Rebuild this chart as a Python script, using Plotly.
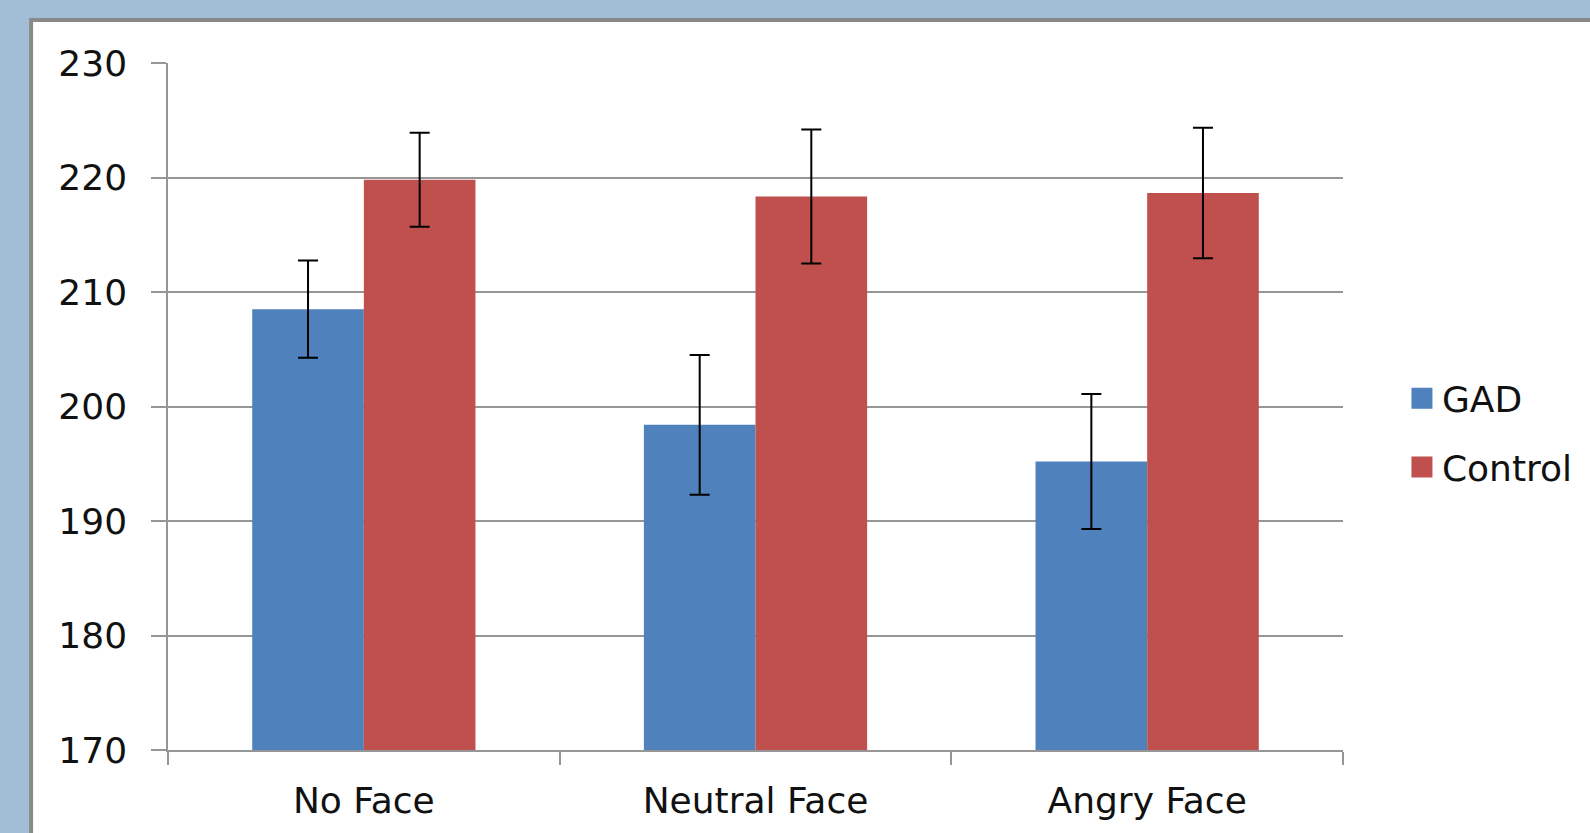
import plotly.graph_objects as go

categories = ["No Face", "Neutral Face", "Angry Face"]
gad_values = [208.5, 198.4, 195.2]
gad_errors = [4.25, 6.1, 5.9]
control_values = [219.8, 218.35, 218.65]
control_errors = [4.1, 5.85, 5.7]
y_ticks = [170, 180, 190, 200, 210, 220, 230]

W, H = 1590, 833
L, R, T, B = 168, 246, 63, 81
pw = W - L - R
ph = H - T - B

def px_x(p):
    return (p - L) / pw

def px_y(p):
    return (H - B - p) / ph

font_family = "DejaVu Sans"
grid_col = "#969696"
gad_col = "#4F81BD"
ctl_col = "#C0504D"

fig = go.Figure()
fig.add_trace(go.Bar(
    name="GAD", x=categories, y=gad_values,
    marker=dict(color=gad_col, line=dict(width=0)),
    error_y=dict(type="data", array=gad_errors, color="black", thickness=2, width=10),
    showlegend=False,
))
fig.add_trace(go.Bar(
    name="Control", x=categories, y=control_values,
    marker=dict(color=ctl_col, line=dict(width=0)),
    error_y=dict(type="data", array=control_errors, color="black", thickness=2, width=10),
    showlegend=False,
))
# legend entries with larger square swatches
for name, col, grp in [("GAD", gad_col, "g1"), ("Control", ctl_col, "g2")]:
    fig.add_trace(go.Scatter(
        name=name, x=[None], y=[None], mode="markers",
        marker=dict(symbol="square", size=16, color=col, line=dict(color=col, width=5)),
        legendgroup=grp, showlegend=True, hoverinfo="skip",
    ))

fig.update_layout(
    width=W, height=H,
    margin=dict(l=L, r=R, t=T, b=B, pad=0),
    paper_bgcolor="#A2BDD6",
    plot_bgcolor="rgba(0,0,0,0)",
    barmode="group",
    bargap=0.43,
    bargroupgap=0,
    font=dict(family=font_family, size=36, color="#111111"),
    legend=dict(
        x=px_x(1403), y=px_y(434), xanchor="left", yanchor="middle",
        bgcolor="rgba(0,0,0,0)", font=dict(size=36),
        tracegroupgap=19, itemwidth=30,
    ),
    shapes=[dict(
        type="rect", xref="paper", yref="paper", layer="below",
        x0=px_x(31), x1=px_x(1700), y0=px_y(20), y1=px_y(900),
        fillcolor="white", line=dict(color="#898989", width=4),
    )],
)

fig.update_yaxes(
    range=[170, 230], tickvals=y_ticks, ticktext=[str(v) for v in y_ticks],
    showgrid=True, gridcolor=grid_col, gridwidth=1.5,
    showline=True, linecolor=grid_col, linewidth=1.5,
    ticks="outside", ticklen=15, tickcolor=grid_col, tickwidth=1.5,
    ticklabelstandoff=17, zeroline=False,
)
fig.update_xaxes(
    showline=True, linecolor=grid_col, linewidth=1.5,
    ticks="outside", ticklen=13, tickcolor=grid_col, tickwidth=1.5,
    tickson="boundaries", showgrid=False,
    ticklabelstandoff=18,
)

fig.write_html(
    "out.html",
    config={"displayModeBar": False},
    post_script="document.body.style.margin='0';document.body.style.overflow='hidden';",
)
